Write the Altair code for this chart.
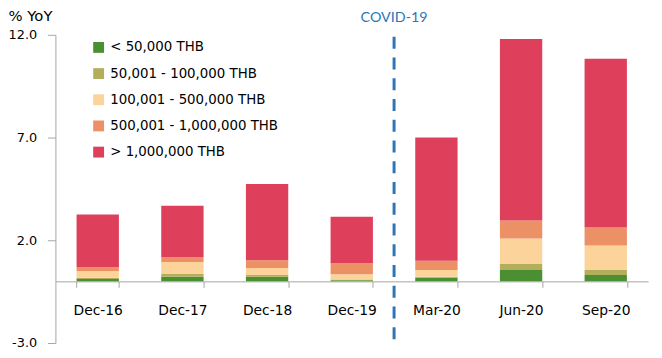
import altair as alt
import pandas as pd

categories = ["Dec-16", "Dec-17", "Dec-18", "Dec-19", "Mar-20", "Jun-20", "Sep-20"]
series = ["< 50,000 THB", "50,001 - 100,000 THB", "100,001 - 500,000 THB",
          "500,001 - 1,000,000 THB", "> 1,000,000 THB"]
colors = ["#4A8F32", "#B2AE5B", "#FBD39B", "#EC9066", "#DE405B"]

v_lt50k = [0.12, 0.22, 0.22, 0.05, 0.18, 0.55, 0.31]
v_50k_100k = [0.05, 0.14, 0.09, 0.04, 0.05, 0.29, 0.24]
v_100k_500k = [0.33, 0.58, 0.34, 0.26, 0.32, 1.25, 1.20]
v_500k_1m = [0.20, 0.24, 0.38, 0.53, 0.45, 0.87, 0.87]
v_gt1m = [2.55, 2.50, 3.71, 2.26, 6.00, 8.84, 8.22]

y_ticks = [-3, 2, 7, 12]

rows = []
for s_i, (name, vals) in enumerate(zip(series, [v_lt50k, v_50k_100k, v_100k_500k, v_500k_1m, v_gt1m])):
    for c, v in zip(categories, vals):
        rows.append({"cat": c, "series": name, "value": v, "order": s_i})
df = pd.DataFrame(rows)

W, H = 600, 312
font = "DejaVu Sans"

xscale = alt.Scale(domain=categories, paddingInner=0.5, paddingOuter=0.25)
yscale = alt.Scale(domain=[-3, 12], nice=False, zero=False)

bars = alt.Chart(df).mark_bar().encode(
    x=alt.X("cat:N", scale=xscale, sort=categories,
            axis=alt.Axis(title=None, labelAngle=0, offset=-H * 3 / 15, tickBand="extent",
                          domainColor="#A6A6A6", tickColor="#A6A6A6", tickSize=6,
                          labelPadding=17, labelFont=font, labelFontSize=14,
                          labelColor="#000000")),
    y=alt.Y("value:Q", scale=yscale, stack="zero",
            axis=alt.Axis(values=y_ticks, grid=False, title="% YoY",
                          labelExpr="datum.value < 0 ? '-' + format(-datum.value, '.1f') : format(datum.value, '.1f')",
                          titleAngle=0, titleX=-48, titleY=-14, titleAlign="left",
                          titleBaseline="alphabetic", titleFont=font, titleFontSize=15,
                          titleFontWeight="normal", titleColor="#000000",
                          domainColor="#A6A6A6", tickColor="#A6A6A6", tickSize=8,
                          labelPadding=11, labelFont=font, labelFontSize=13,
                          labelColor="#000000")),
    color=alt.Color("series:N", scale=alt.Scale(domain=series, range=colors),
                    legend=alt.Legend(title=None, orient="none", legendX=37, legendY=6,
                                      symbolType="square", symbolSize=121,
                                      symbolStrokeWidth=0, labelFont=font,
                                      labelFontSize=13.5, labelOffset=5, rowPadding=11.5,
                                      labelLimit=400, padding=0, labelColor="#000000")),
    order=alt.Order("order:Q", sort="ascending"),
)

# COVID-19 divider sits on the boundary after the 4th category (index 4 of 0..7)
covid = pd.DataFrame({"pos": [4], "top": [11.9], "bottom": [-2.85],
                      "label_y": [12.8], "label": ["COVID-19"]})
pos_scale = alt.Scale(domain=[0, len(categories)], nice=False, zero=False)

rule = alt.Chart(covid).mark_rule(color="#2E75B6", strokeWidth=3, strokeDash=[12, 9]).encode(
    x=alt.X("pos:Q", scale=pos_scale, axis=None),
    y="top:Q",
    y2="bottom:Q",
)

text = alt.Chart(covid).mark_text(color="#2E75B6", font="Lato", fontSize=14.5,
                                  baseline="middle", align="center").encode(
    x=alt.X("pos:Q", scale=pos_scale, axis=None),
    y="label_y:Q",
    text="label:N",
)

overlay = alt.layer(rule, text)

chart = alt.layer(bars, overlay).resolve_scale(x="independent").properties(
    width=W, height=H,
    autosize=alt.AutoSizeParams(type="none"),
    padding={"left": 48, "top": 25, "right": 6, "bottom": 10},
).configure_view(stroke=None).configure_axis(domainWidth=1)

chart.save("out.html", embed_options={"renderer": "svg", "actions": False})
